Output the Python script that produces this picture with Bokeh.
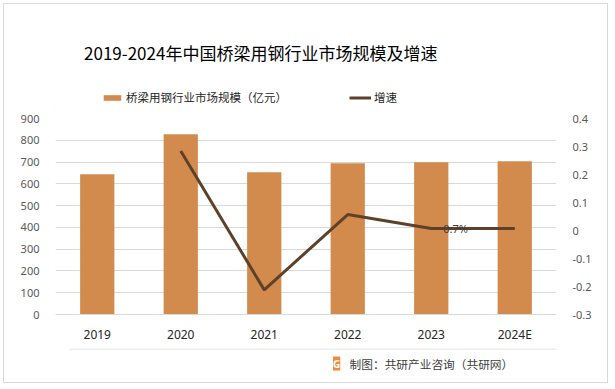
from bokeh.plotting import figure
from bokeh.layouts import column
from bokeh.models import (Range1d, LinearAxis, FixedTicker, Label, BoxAnnotation,
                          Legend, LegendItem)
from bokeh.core.properties import value
from bokeh.embed import file_html
from bokeh.resources import INLINE

years = ["2019", "2020", "2021", "2022", "2023", "2024E"]
market = [644, 828, 653, 694, 699, 704]
growth_years = ["2020", "2021", "2022", "2023", "2024E"]
growth = [0.284, -0.212, 0.057, 0.007, 0.007]
label_years = ["2023"]
label_values = [0.007]
label_texts = ["0.7%"]
left_ticks = [0, 100, 200, 300, 400, 500, 600, 700, 800, 900]
right_ticks = [-0.3, -0.2, -0.1, 0, 0.1, 0.2, 0.3, 0.4]
right_tick_labels = ["-0.3", "-0.2", "-0.1", "0", "0.1", "0.2", "0.3", "0.4"]

CJK = "Noto Sans CJK SC"
NUM = "Noto Sans"
BAR = "#D38B4D"
LINE = "#5E4129"
W = 603

def blank(h):
    f = figure(width=W, height=h, x_range=Range1d(0, W), y_range=Range1d(0, h),
               output_backend="svg", toolbar_location=None,
               min_border=0, min_border_left=0, min_border_right=0,
               min_border_top=0, min_border_bottom=0)
    f.axis.visible = False
    f.grid.visible = False
    f.outline_line_color = None
    f.background_fill_color = "white"
    f.border_fill_color = "white"
    return f

# ---------- header: title + legend ----------
H1 = 104
hdr = blank(H1)
hdr.add_layout(Label(x=247, y=H1 - 48, text="2019-2024年中国桥梁用钢行业市场规模及增速",
                     text_font=CJK, text_font_size="17px", text_color="#000000",
                     text_align="center", text_baseline="middle"))
# legend swatch renderers (kept outside the visible range)
lg_bar = hdr.vbar(x=[-50], top=[1], width=1, fill_color=BAR, line_color=None)
lg_line = hdr.line(x=[-60, -50], y=[1, 1], line_color=LINE, line_width=3)
legend = Legend(items=[LegendItem(label="桥梁用钢行业市场规模（亿元）", renderers=[lg_bar]),
                       LegendItem(label="增速", renderers=[lg_line])],
                orientation="horizontal", location=(46, 3),
                border_line_color=None, background_fill_alpha=0,
                label_text_font=CJK, label_text_font_size="11.5px", label_text_color="#262626",
                glyph_width=22, glyph_height=7, spacing=62, padding=0, margin=0,
                label_standoff=3)
hdr.add_layout(legend)

# ---------- main chart ----------
p = figure(x_range=years, y_range=Range1d(0, 900), width=W, height=240,
           output_backend="svg", toolbar_location=None,
           min_border_left=51, min_border_right=51, min_border_top=10, min_border_bottom=34)
p.extra_y_ranges = {"g": Range1d(-0.3, 0.4)}
p.outline_line_color = None
p.background_fill_color = "white"
p.border_fill_color = "white"
p.xgrid.grid_line_color = None
p.ygrid.grid_line_color = "#d9d9d9"
p.ygrid.ticker = FixedTicker(ticks=left_ticks)

p.vbar(x=years, top=market, width=0.41, fill_color=BAR, line_color=None)
p.line(x=growth_years, y=growth, y_range_name="g", line_color=LINE, line_width=3)
p.text(x=label_years, y=label_values, text=label_texts, y_range_name="g", x_offset=12,
       text_font=value(NUM), text_font_size="11px", text_color="#404040",
       text_baseline="middle", text_align="left")

ax = p.xaxis[0]
ax.axis_line_color = "#d9d9d9"
ax.major_tick_line_color = None
ax.minor_tick_line_color = None
ax.major_label_text_font = NUM
ax.major_label_text_font_size = "12px"
ax.major_label_text_color = "#262626"
ax.major_label_standoff = 5

ly = p.yaxis[0]
ly.ticker = FixedTicker(ticks=left_ticks)
ly.axis_line_color = None
ly.major_tick_line_color = None
ly.minor_tick_line_color = None
ly.major_label_text_font = NUM
ly.major_label_text_font_size = "11px"
ly.major_label_text_color = "#595959"
ly.major_label_standoff = 10

ry = LinearAxis(y_range_name="g", ticker=FixedTicker(ticks=right_ticks),
                major_label_overrides={t: s for t, s in zip(right_ticks, right_tick_labels)})
ry.axis_line_color = None
ry.major_tick_line_color = None
ry.minor_tick_line_color = None
ry.major_label_text_font = NUM
ry.major_label_text_font_size = "11px"
ry.major_label_text_color = "#595959"
ry.major_label_standoff = 10
p.add_layout(ry, "right")

# ---------- footer: separator + source ----------
H3 = 34
ftr = blank(H3)
ftr.add_layout(BoxAnnotation(left=17, right=W, bottom=H3 - 1, top=H3,
                             fill_color="#d9d9d9", fill_alpha=1, line_color=None))
ftr.add_layout(Label(x=334, y=H3 - 15, text="G", text_font=NUM, text_font_size="10px",
                     text_font_style="bold", text_color="white",
                     background_fill_color="#F08A3C", text_baseline="middle",
                     text_align="left"))
ftr.add_layout(Label(x=354, y=H3 - 15, text="制图：共研产业咨询（共研网）", text_font=CJK,
                     text_font_size="11.7px", text_color="#404040",
                     text_baseline="middle", text_align="left"))

layout = column(hdr, p, ftr, spacing=0,
                styles={"border": "1px solid #d9d9d9", "margin-left": "3px",
                        "margin-top": "3px"})
open("out.html", "w").write(file_html(layout, INLINE))
